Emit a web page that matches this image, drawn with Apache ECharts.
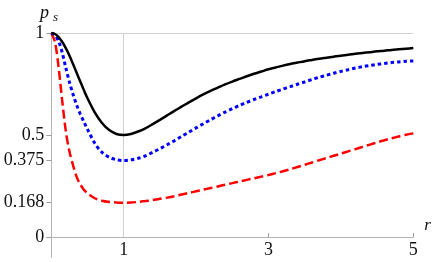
<!DOCTYPE html>
<html><head><meta charset="utf-8">
<script src="https://cdn.jsdelivr.net/npm/echarts@6/dist/echarts.min.js"></script>
<style>html,body{margin:0;padding:0;background:#fff}#c{width:436px;height:262px}</style>
</head><body><div id="c"></div>
<script>
const rValues = [0,0.05,0.1,0.15,0.2,0.25,0.3,0.35,0.4,0.45,0.5,0.6,0.7,0.8,0.9,1.0,1.1,1.2,1.3,1.4,1.5,1.6,1.7,1.8,1.9,2.0,2.1,2.2,2.3,2.4,2.5,2.6,2.7,2.8,2.9,3.0,3.1,3.2,3.3,3.4,3.5,3.6,3.7,3.8,3.9,4.0,4.1,4.2,4.3,4.4,4.5,4.6,4.7,4.8,4.9,5.0];
const blackVals = [1,0.995,0.98,0.957,0.926,0.89,0.848,0.805,0.762,0.72,0.68,0.611,0.559,0.524,0.505,0.5,0.505,0.517,0.533,0.553,0.574,0.596,0.618,0.639,0.66,0.68,0.699,0.716,0.732,0.748,0.762,0.775,0.788,0.8,0.811,0.822,0.831,0.84,0.848,0.855,0.862,0.868,0.874,0.879,0.884,0.889,0.893,0.898,0.902,0.906,0.91,0.913,0.917,0.92,0.923,0.926];
const blueVals = [1,0.99,0.96,0.905,0.83,0.76,0.7,0.647,0.603,0.565,0.528,0.46,0.415,0.391,0.379,0.375,0.378,0.386,0.398,0.415,0.433,0.452,0.472,0.493,0.514,0.535,0.555,0.575,0.594,0.612,0.629,0.645,0.66,0.674,0.687,0.7,0.713,0.725,0.737,0.749,0.76,0.772,0.783,0.793,0.803,0.812,0.82,0.828,0.835,0.841,0.846,0.851,0.855,0.858,0.861,0.863];
const redVals = [1,0.957,0.835,0.67,0.52,0.42,0.352,0.295,0.258,0.232,0.214,0.19,0.178,0.172,0.169,0.168,0.169,0.172,0.176,0.181,0.187,0.193,0.2,0.208,0.216,0.224,0.232,0.24,0.248,0.256,0.264,0.272,0.28,0.288,0.296,0.304,0.313,0.322,0.332,0.343,0.354,0.365,0.376,0.387,0.398,0.409,0.42,0.431,0.442,0.453,0.464,0.474,0.484,0.493,0.501,0.508];
const xTickVals = [1,3,5];
const yTickVals = [0,0.168,0.375,0.5,1];
const yTickLabels = ['0','0.168','0.375','0.5','1'];

const pair = v => rValues.map((r,i)=>[r,v[i]]);
const font = '"Liberation Serif", "Times New Roman", serif';
const chart = echarts.init(document.getElementById('c'), null, {renderer:'canvas'});
chart.setOption({
  animation:false,
  grid:{left:51.3, right:22.7, top:33, bottom:4.6, containLabel:false, outerBoundsMode:'none'},
  xAxis:{type:'value', min:0, max:5,
    axisLine:{show:true, onZero:true, lineStyle:{color:'#b4b4b4', width:1}},
    axisTick:{show:true, inside:true, length:4, customValues:xTickVals, lineStyle:{color:'#a0a0a0'}},
    axisLabel:{customValues:xTickVals, margin:-16, color:'#111', fontFamily:font, fontSize:18},
    splitLine:{show:false},
    name:'r', nameLocation:'end', nameGap:11,
    nameTextStyle:{fontFamily:font, fontStyle:'italic', fontSize:17, color:'#111', verticalAlign:'bottom', padding:[0,0,3,0]}
  },
  yAxis:{type:'value', min:-0.1, max:1,
    axisLine:{show:true, onZero:false, lineStyle:{color:'#b4b4b4', width:1}},
    axisTick:{show:true, inside:false, length:5, customValues:yTickVals, lineStyle:{color:'#a0a0a0'}},
    axisLabel:{customValues:yTickVals, margin:7, color:'#111', fontFamily:font, fontSize:18,
      formatter:v=>{const i=yTickVals.findIndex(t=>Math.abs(t-v)<1e-6);return i>=0?yTickLabels[i]:'';}},
    splitLine:{show:false}
  },
  graphic:[
    {type:'text', left:40, top:4, style:{text:'p', font:'italic 18px "Liberation Serif"', fill:'#111'}},
    {type:'text', left:53, top:11, style:{text:'s', font:'italic 13px "Liberation Serif"', fill:'#111'}}
  ],
  series:[
    {type:'line', data:pair(redVals), smooth:0.3, showSymbol:false, z:3,
      lineStyle:{color:'#ff0000', width:2.5, type:[9,4]},
      markLine:{silent:true, symbol:'none', label:{show:false},
        lineStyle:{color:'#d0d0d0', width:1, type:'solid'},
        data:[[{coord:[1,0]},{coord:[1,1]}],{yAxis:1}]}},
    {type:'line', data:pair(blueVals), smooth:0.3, showSymbol:false, z:4,
      lineStyle:{color:'#0000ff', width:3, type:[3.5,3]}},
    {type:'line', data:pair(blackVals), smooth:0.3, showSymbol:false, z:5,
      lineStyle:{color:'#000000', width:2.5, type:'solid'}}
  ]
});
</script></body></html>
